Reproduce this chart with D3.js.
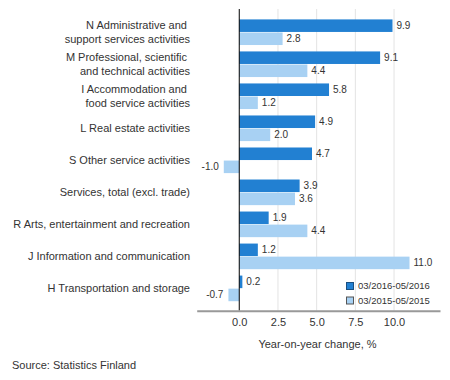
<!DOCTYPE html>
<html><head><meta charset="utf-8">
<script src="https://cdn.jsdelivr.net/npm/d3@7"></script>
<style>body{margin:0;background:#fff}svg{display:block;font-family:"Liberation Sans",Arial,sans-serif}</style>
</head><body><svg id="c" width="450" height="380"></svg>
<script>
const categories = [
  ["N Administrative and ", "support services activities"],
  ["M Professional, scientific ", "and technical activities"],
  ["I Accommodation and ", "food service activities"],
  ["L Real estate activities"],
  ["S Other service activities"],
  ["Services, total (excl. trade)"],
  ["R Arts, entertainment and recreation"],
  ["J Information and communication"],
  ["H Transportation and storage"]
];
const seriesNames = ["03/2016-05/2016", "03/2015-05/2015"];
const values2016 = [9.9, 9.1, 5.8, 4.9, 4.7, 3.9, 1.9, 1.2, 0.2];
const values2015 = [2.8, 4.4, 1.2, 2.0, -1.0, 3.6, 4.4, 11.0, -0.7];
const xTicks = [0, 2.5, 5, 7.5, 10];
const axisTitle = "Year-on-year change, %";
const source = "Source: Statistics Finland";

const colors = ["#2280d2", "#a8d1f3"];
const svg = d3.select("#c");
const keys = categories.map((c, i) => i);
const x = d3.scaleLinear().domain([-2.75, 12.97]).range([196.7, 440]);
const y = d3.scaleBand().domain(keys).range([16.2, 304.4]).paddingInner(0.2).paddingOuter(0.1);
const ySub = d3.scaleBand().domain([0, 1]).range([0, y.bandwidth()]).paddingInner(0.04);
const plotTop = 9, plotBottom = 310.7;

// gridlines
svg.append("g").selectAll("line").data(xTicks.filter(t => t !== 0)).join("line")
  .attr("x1", d => x(d)).attr("x2", d => x(d))
  .attr("y1", plotTop).attr("y2", plotBottom)
  .attr("stroke", "#e3e3e3").attr("stroke-width", 1);

const seriesVals = [values2016, values2015];
seriesVals.forEach((vals, s) => {
  const g = svg.append("g");
  g.selectAll("rect").data(vals).join("rect")
    .attr("x", d => x(Math.min(0, d)))
    .attr("width", d => Math.abs(x(d) - x(0)))
    .attr("y", (d, i) => y(i) + ySub(s))
    .attr("height", ySub.bandwidth())
    .attr("fill", colors[s]);
  g.selectAll("text").data(vals).join("text")
    .attr("x", d => d >= 0 ? x(d) + 4 : x(d) - 5)
    .attr("y", (d, i) => y(i) + ySub(s) + ySub.bandwidth() / 2)
    .attr("dy", "0.35em")
    .attr("text-anchor", d => d >= 0 ? "start" : "end")
    .attr("font-size", 10).attr("fill", "#333")
    .text(d => d.toFixed(1));
});

// zero line
svg.append("line").attr("x1", x(0)).attr("x2", x(0)).attr("y1", plotTop).attr("y2", plotBottom)
  .attr("stroke", "#000").attr("stroke-width", 1);

// bottom axis
const xAxis = d3.axisBottom(x).tickValues(xTicks).tickFormat(d3.format(".1f")).tickSize(0).tickPadding(8);
const ax = svg.append("g").attr("transform", `translate(0,${plotBottom})`).call(xAxis);
ax.select(".domain").attr("stroke", "#999").attr("stroke-width", 2);
ax.selectAll("text").attr("font-size", 11).attr("fill", "#333").attr("font-family", "Liberation Sans, Arial, sans-serif");

// category labels
const lab = svg.append("g").attr("font-size", 11).attr("fill", "#333");
categories.forEach((lines, i) => {
  const cy = y(i) + y.bandwidth() / 2;
  const lh = 14;
  const t = lab.append("text").attr("text-anchor", "end").style("white-space", "pre");
  lines.forEach((ln, j) => {
    t.append("tspan").attr("x", 190).attr("y", cy + (j - (lines.length - 1) / 2) * lh).attr("dy", "0.35em").text(ln);
  });
});

// legend
const leg = svg.append("g");
seriesNames.forEach((n, s) => {
  const cy = 286 + s * 14.5;
  leg.append("rect").attr("x", 346.5).attr("y", cy - 3.5).attr("width", 7).attr("height", 7)
    .attr("fill", colors[s]).attr("stroke", s === 0 ? "#1a4f80" : "#555").attr("stroke-width", 1);
  leg.append("text").attr("x", 358).attr("y", cy).attr("dy", "0.35em").attr("font-size", 9.5).attr("fill", "#333").text(n);
});

svg.append("text").attr("x", 317.5).attr("y", 344).attr("dy", "0.35em").attr("text-anchor", "middle")
  .attr("font-size", 11).attr("fill", "#333").text(axisTitle);
svg.append("text").attr("x", 12).attr("y", 365).attr("dy", "0.35em")
  .attr("font-size", 11).attr("fill", "#333").text(source);
</script></body></html>
